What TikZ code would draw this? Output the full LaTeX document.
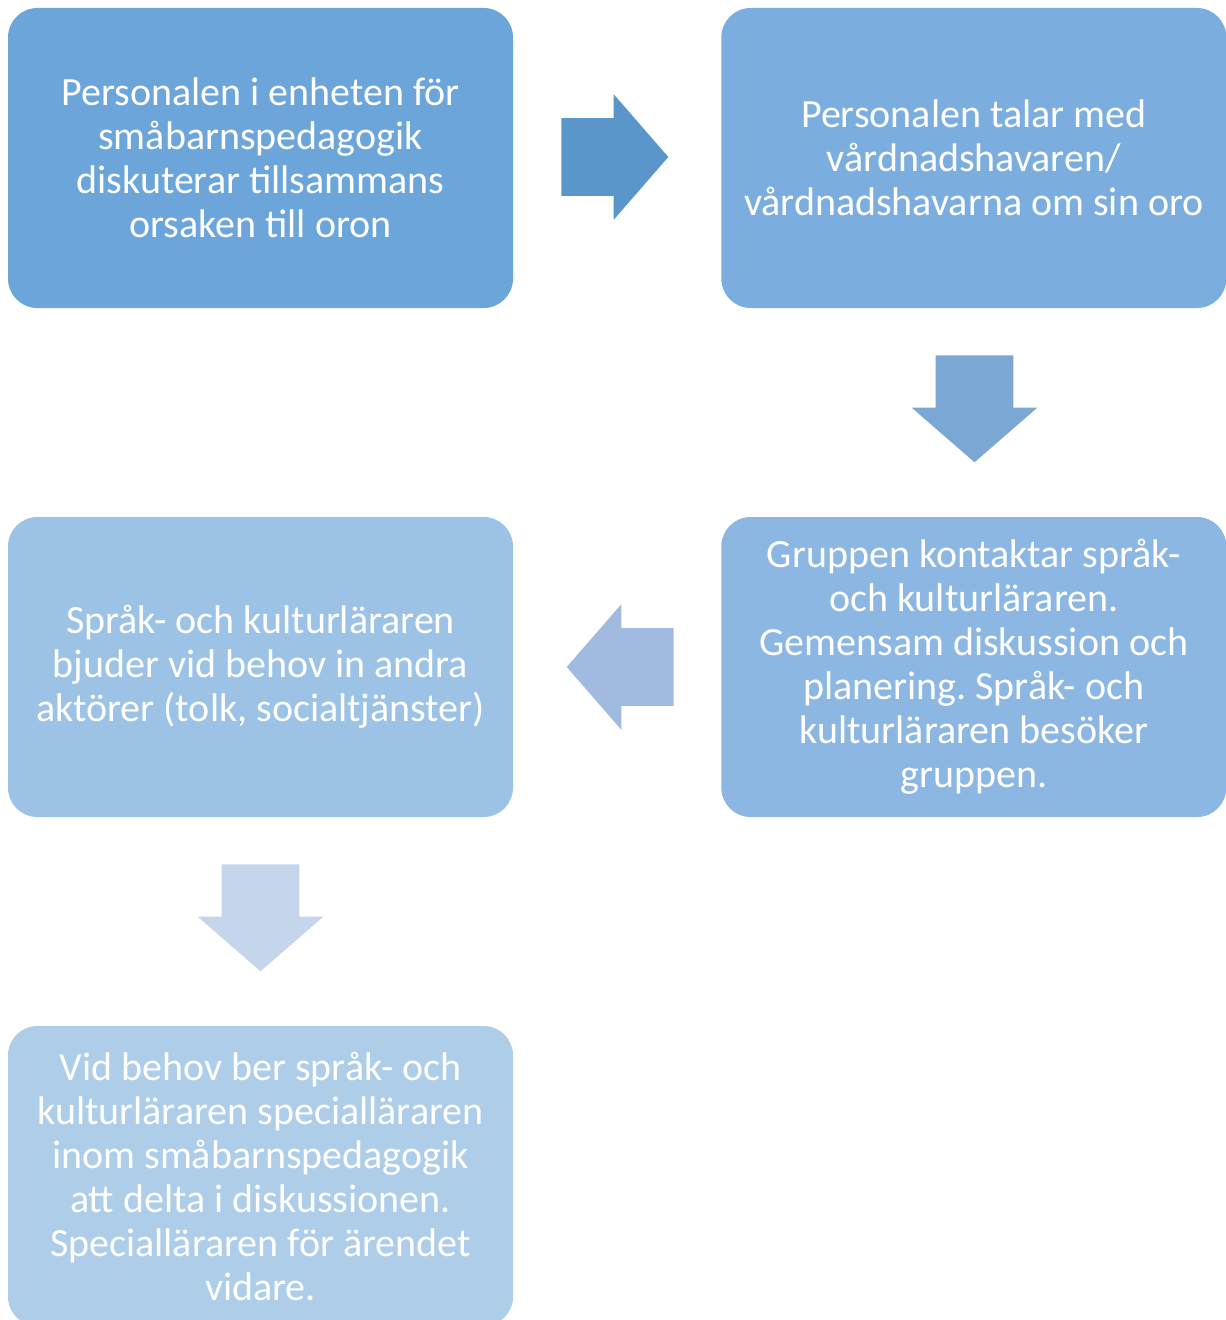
\documentclass[tikz,border=0pt]{standalone}
\usepackage{fontspec}
\setmainfont{Carlito}
\usetikzlibrary{positioning,shapes.arrows}

\definecolor{boxA}{HTML}{6CA5DA}
\definecolor{boxB}{HTML}{7BAEDE}
\definecolor{boxC}{HTML}{8BB7E2}
\definecolor{boxD}{HTML}{9CC3E6}
\definecolor{boxE}{HTML}{AECDE9}
\definecolor{arrAB}{HTML}{5B96CB}
\definecolor{arrBC}{HTML}{7BA7D5}
\definecolor{arrCD}{HTML}{A1BBE0}
\definecolor{arrDE}{HTML}{C5D5EB}

\begin{document}
\frenchspacing
\begin{tikzpicture}[x=0.75pt, y=-0.75pt,
		step box/.style={rectangle, rounded corners=22pt, minimum width=378.75pt,
			minimum height=225pt, text=white, align=center,
			font=\fontsize{30}{33}\selectfont},
		big arrow/.style={single arrow, draw=none, anchor=tail,
			minimum height=80.25pt, minimum width=93.75pt,
			single arrow head extend=18pt, single arrow tip angle=98},
		flat arrow/.style={big arrow, inner xsep=0pt, inner ysep=28.875pt},
		down arrow/.style={big arrow, inner ysep=0pt, inner xsep=28.875pt,
			shape border rotate=270},
		node distance=535pt]
	\useasboundingbox (0,0) rectangle (1226,1320);
	
	\node[step box, fill=boxA](A) at (260.5,158){Personalen i enheten för\\
		småbarnspedagogik\\ diskuterar tillsammans\\ orsaken till oron};
	\node[step box, fill=boxB](B)[right of=A]{Personalen talar med\\
		vårdnadshavaren/\\ vårdnadshavarna om sin oro};
	\node[step box, fill=boxC](C)[below of=B, node distance=381.75pt]{Gruppen kontaktar språk-\\
		och kulturläraren.\\ Gemensam diskussion och\\ planering. Språk- och\\
		kulturläraren besöker\\ gruppen.};
	\node[step box, fill=boxD](D)[left of=C]{Språk- och kulturläraren\\
		bjuder vid behov in andra\\ aktörer (tolk, socialtjänster)};
	\node[step box, fill=boxE](E)[below of=D, node distance=381.75pt]{Vid behov ber språk- och\\
		kulturläraren specialläraren\\ inom småbarnspedagogik\\ att delta i diskussionen.\\
		Specialläraren för ärendet\\ vidare.};
	
	% arrows between the steps
	\node[flat arrow, fill=arrAB](AB) at (561,157){};
	\node[down arrow, fill=arrBC](BC) at (974.5,355){};
	\node[flat arrow, fill=arrCD, shape border rotate=180](CD) at (674,667){};
	\node[down arrow, fill=arrDE](DE) at (260.5,864){};
	
\end{tikzpicture}
\end{document}
